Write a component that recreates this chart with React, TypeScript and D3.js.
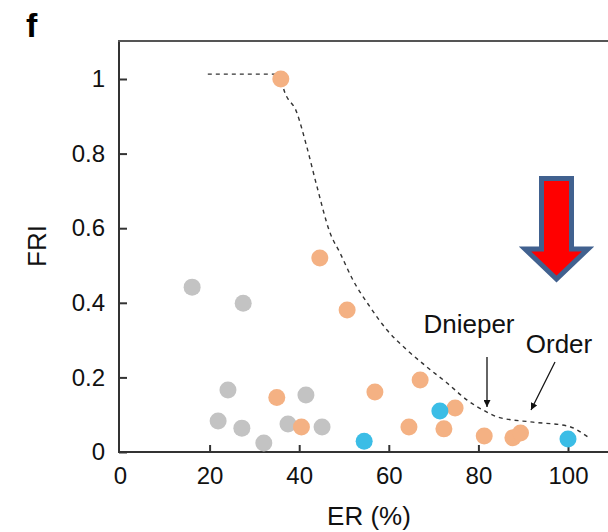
import * as d3 from "d3";
import { useEffect, useRef } from "react";

// ER (%) and FRI per point group
const orangeER = [35.9, 44.6, 50.7, 35.0, 56.9, 67.0, 74.8, 40.5, 64.5, 72.3, 81.3, 87.7, 89.4];
const orangeFRI = [1.0, 0.52, 0.381, 0.146, 0.161, 0.193, 0.118, 0.067, 0.067, 0.062, 0.043, 0.038, 0.051];
const grayER = [16.1, 27.5, 24.1, 21.9, 27.2, 32.1, 37.5, 41.5, 45.1];
const grayFRI = [0.442, 0.399, 0.166, 0.083, 0.064, 0.024, 0.075, 0.153, 0.067];
const blueER = [54.5, 71.4, 100];
const blueFRI = [0.029, 0.11, 0.035];

// dashed envelope
const envER = [19.6, 35.9, 36.4, 39.5, 41.7, 44.0, 46.9, 49.1, 52.0, 55.8, 59.6, 64.1, 68.5, 73.0, 77.5, 81.9, 84.2, 92.2, 99.8, 104.5];
const envFRI = [1.013, 1.013, 0.979, 0.909, 0.818, 0.71, 0.587, 0.534, 0.461, 0.389, 0.327, 0.273, 0.228, 0.185, 0.139, 0.107, 0.094, 0.08, 0.07, 0.04];

const xTicks = [0, 20, 40, 60, 80, 100];
const yTicks = [0, 0.2, 0.4, 0.6, 0.8, 1];

const App = () => {
  const ref = useRef<SVGSVGElement>(null);

  useEffect(() => {
    const svg = d3.select(ref.current);
    svg.selectAll("*").remove();

    const x = d3.scaleLinear().domain([0, 110]).range([120, 120 + 110 * 4.48]);
    const y = d3.scaleLinear().domain([0, 1]).range([452, 79]);
    const font = "Liberation Sans, Arial, sans-serif";

    const defs = svg.append("defs");
    defs.append("marker")
      .attr("id", "ah")
      .attr("viewBox", "0 0 10 10")
      .attr("refX", 10).attr("refY", 5)
      .attr("markerWidth", 7).attr("markerHeight", 7)
      .attr("markerUnits", "userSpaceOnUse")
      .attr("orient", "auto")
      .append("path").attr("d", "M0,0L10,5L0,10Z").attr("fill", "#111");

    // frame: left, bottom, top
    svg.append("line").attr("x1", 119).attr("x2", 119).attr("y1", 41).attr("y2", 452)
      .attr("stroke", "#333").attr("stroke-width", 2);
    svg.append("line").attr("x1", 118).attr("x2", 608).attr("y1", 452).attr("y2", 452)
      .attr("stroke", "#333").attr("stroke-width", 2);
    svg.append("line").attr("x1", 118).attr("x2", 608).attr("y1", 41).attr("y2", 41)
      .attr("stroke", "#555").attr("stroke-width", 2);

    const xAxis = svg.append("g").attr("transform", "translate(0,452)")
      .call(d3.axisBottom(x).tickValues(xTicks).tickSize(-7).tickPadding(15).tickFormat(d3.format("d")));
    xAxis.select(".domain").remove();
    xAxis.selectAll("line").attr("stroke", "#333").attr("stroke-width", 2);
    xAxis.selectAll("text").attr("font-size", 24).attr("font-family", font).attr("fill", "#111");
    xAxis.selectAll(".tick").filter((d: any) => d === 0).select("line").remove();

    const yAxis = svg.append("g").attr("transform", "translate(119,0)")
      .call(d3.axisLeft(y).tickValues(yTicks).tickSize(-8).tickPadding(14)
        .tickFormat((d: any) => (d === 0 || d === 1 ? d3.format("d")(d) : d3.format(".1f")(d))));
    yAxis.select(".domain").remove();
    yAxis.selectAll("line").attr("stroke", "#333").attr("stroke-width", 2);
    yAxis.selectAll("text").attr("font-size", 24).attr("font-family", font).attr("fill", "#111");

    svg.append("text").attr("x", 369).attr("y", 525).attr("text-anchor", "middle")
      .attr("font-size", 26).attr("font-family", font).attr("fill", "#111").text("ER (%)");
    svg.append("text").attr("transform", "translate(46,246) rotate(-90)").attr("text-anchor", "middle")
      .attr("font-size", 26).attr("font-family", font).attr("fill", "#111").text("FRI");
    svg.append("text").attr("x", 26).attr("y", 37).attr("font-size", 34).attr("font-weight", "bold")
      .attr("font-family", font).attr("fill", "#000").text("f");

    // envelope
    const env = envER.map((e, i) => [e, envFRI[i]] as [number, number]);
    svg.append("path")
      .attr("d", d3.line<[number, number]>().x(d => x(d[0])).y(d => y(d[1])).curve(d3.curveMonotoneX)(env))
      .attr("fill", "none").attr("stroke", "#333").attr("stroke-width", 1.4).attr("stroke-dasharray", "4,4");

    const groups: [number[], number[], string][] = [
      [grayER, grayFRI, "#c3c3c3"],
      [orangeER, orangeFRI, "#f4b183"],
      [blueER, blueFRI, "#3bbde6"],
    ];
    groups.forEach(([xs, ys, c]) => {
      svg.append("g").selectAll("circle").data(xs).join("circle")
        .attr("cx", d => x(d)).attr("cy", (_, i) => y(ys[i])).attr("r", 8.5).attr("fill", c);
    });

    // annotations
    svg.append("text").attr("x", 469).attr("y", 333).attr("text-anchor", "middle")
      .attr("font-size", 26).attr("font-family", font).attr("fill", "#111").text("Dnieper");
    svg.append("text").attr("x", 559).attr("y", 353).attr("text-anchor", "middle")
      .attr("font-size", 26).attr("font-family", font).attr("fill", "#111").text("Order");
    svg.append("line").attr("x1", 487).attr("y1", 357).attr("x2", 487).attr("y2", 407)
      .attr("stroke", "#111").attr("stroke-width", 1.3).attr("marker-end", "url(#ah)");
    svg.append("line").attr("x1", 555).attr("y1", 362).attr("x2", 531).attr("y2", 410)
      .attr("stroke", "#111").attr("stroke-width", 1.3).attr("marker-end", "url(#ah)");

    // red block arrow
    svg.append("path")
      .attr("d", "M541.5,178.5L571.5,178.5L571.5,249L588,249L556.5,279L525,249L541.5,249Z")
      .attr("fill", "#ff0000").attr("stroke", "#41618f").attr("stroke-width", 5)
      .attr("stroke-linejoin", "miter");
  });

  return (
    <svg ref={ref} width={608} height={532}
      style={{ position: "absolute", left: 0, top: 0, background: "#fff" }} />
  );
};

export default App;
